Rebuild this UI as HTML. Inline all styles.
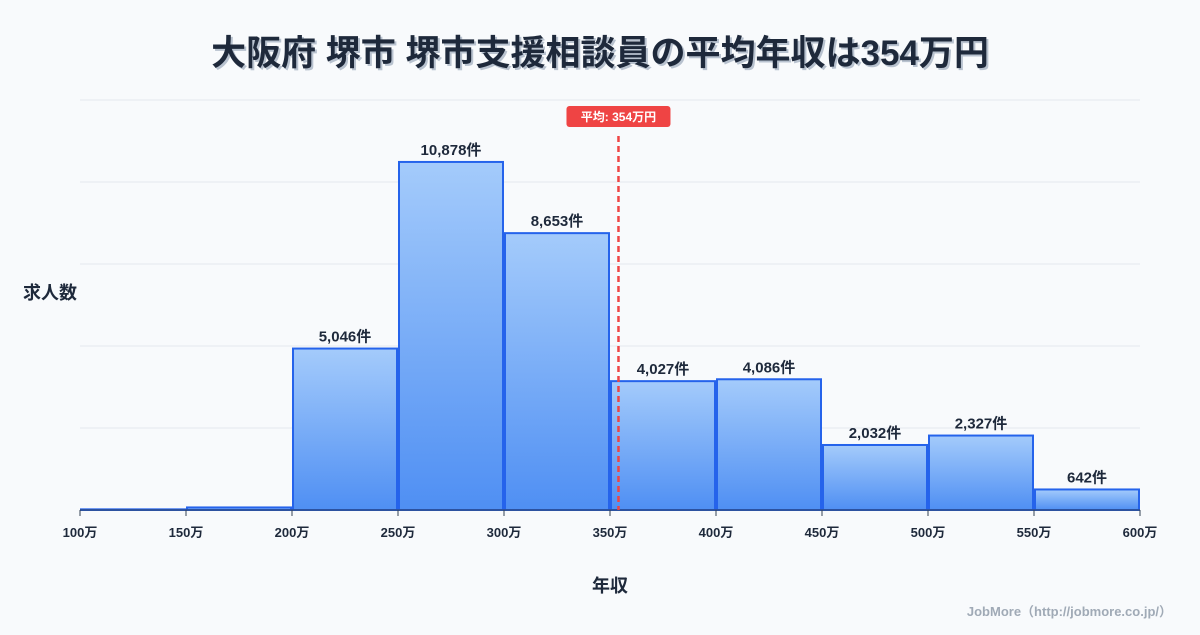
<!DOCTYPE html>
<html><head><meta charset="utf-8"><style>
body{margin:0;background:#f8fafc;}
svg text{font-family:"Liberation Sans","Noto Sans CJK JP",sans-serif;}
</style></head><body>
<svg width="1200" height="630" xmlns="http://www.w3.org/2000/svg">
<defs><linearGradient id="g" x1="0" y1="0" x2="0" y2="1"><stop offset="0" stop-color="#a4cbfb"/><stop offset="1" stop-color="#4f8ff3"/></linearGradient></defs>
<rect width="1200" height="630" fill="#f8fafc"/>
<text x="602" y="67" text-anchor="middle" font-size="35" font-weight="bold" fill="#b8c2cf">大阪府 堺市 堺市支援相談員の平均年収は354万円</text>
<text x="600" y="65" text-anchor="middle" font-size="35" font-weight="bold" fill="#1e293b">大阪府 堺市 堺市支援相談員の平均年収は354万円</text>
<text x="50" y="299" text-anchor="middle" font-size="18" font-weight="bold" fill="#1e293b">求人数</text>
<text x="610" y="592" text-anchor="middle" font-size="18" font-weight="bold" fill="#1e293b">年収</text>
<text x="1172" y="616" text-anchor="end" font-size="13" font-weight="bold" fill="#a0aab6">JobMore（http://jobmore.co.jp/）</text>
<g id="grid"></g><g id="bars"></g><g id="axis"></g><g id="mean"></g>
</svg>
<script>
const binStarts=[100,150,200,250,300,350,400,450,500,550];
const counts=[20,80,5046,10878,8653,4027,4086,2032,2327,642];
const tickLabels=[100,150,200,250,300,350,400,450,500,550,600];
const meanValue=354;
const NS="http://www.w3.org/2000/svg";
const x0=80,x1=1140,xmin=100,xmax=600,base=510,plotTop=100;
const ymax=Math.max(...counts)*1.178;
const X=v=>x0+(v-xmin)/(xmax-xmin)*(x1-x0);
const Y=v=>base-v/ymax*(base-plotTop);
function mk(t,a,p){const e=document.createElementNS(NS,t);for(const k in a)e.setAttribute(k,a[k]);p.appendChild(e);return e;}
const grid=document.getElementById('grid');
for(let i=0;i<=5;i++){const y=base-i*(base-plotTop)/5;const l=mk('line',{x1:x0,x2:x1,y1:y,y2:y,stroke:'#e3e8ee','stroke-width':1},grid);

}
const bars=document.getElementById('bars');
binStarts.forEach((s,i)=>{const xa=X(s)+1,xb=X(s+50)-1,y=Y(counts[i]);
const r=mk('rect',{x:xa,y:y,width:xb-xa,height:base-y,fill:'url(#g)',stroke:'#2563eb','stroke-width':2},bars);


if(counts[i]>500){const t=mk('text',{x:(xa+xb)/2,y:y-7,'text-anchor':'middle','font-size':15,'font-weight':'bold',fill:'#1e293b'},bars);t.textContent=counts[i].toLocaleString('en-US')+'件';

}});
const ax=document.getElementById('axis');
const al=mk('line',{x1:x0,x2:x1,y1:base,y2:base,stroke:'#334155','stroke-width':1},ax);


tickLabels.forEach(v=>{const x=X(v);mk('line',{x1:x,x2:x,y1:base,y2:base+6,stroke:'#334155'},ax);
const t=mk('text',{x:x,y:base+27,'text-anchor':'middle','font-size':13,'font-weight':'bold',fill:'#1e293b'},ax);t.textContent=v+'万';

});
const mg=document.getElementById('mean');const mx=X(meanValue);
const ml=mk('line',{x1:mx,x2:mx,y1:136,y2:base,stroke:'#ef4444','stroke-width':2.5,'stroke-dasharray':'6,4'},mg);


const mb=mk('rect',{x:mx-52,y:106,width:104,height:21,rx:3,fill:'#ef4444'},mg);


const mt=mk('text',{x:mx,y:121,'text-anchor':'middle','font-size':12,'font-weight':'bold',fill:'#fff'},mg);mt.textContent='平均: '+meanValue+'万円';


</script>
</body></html>
